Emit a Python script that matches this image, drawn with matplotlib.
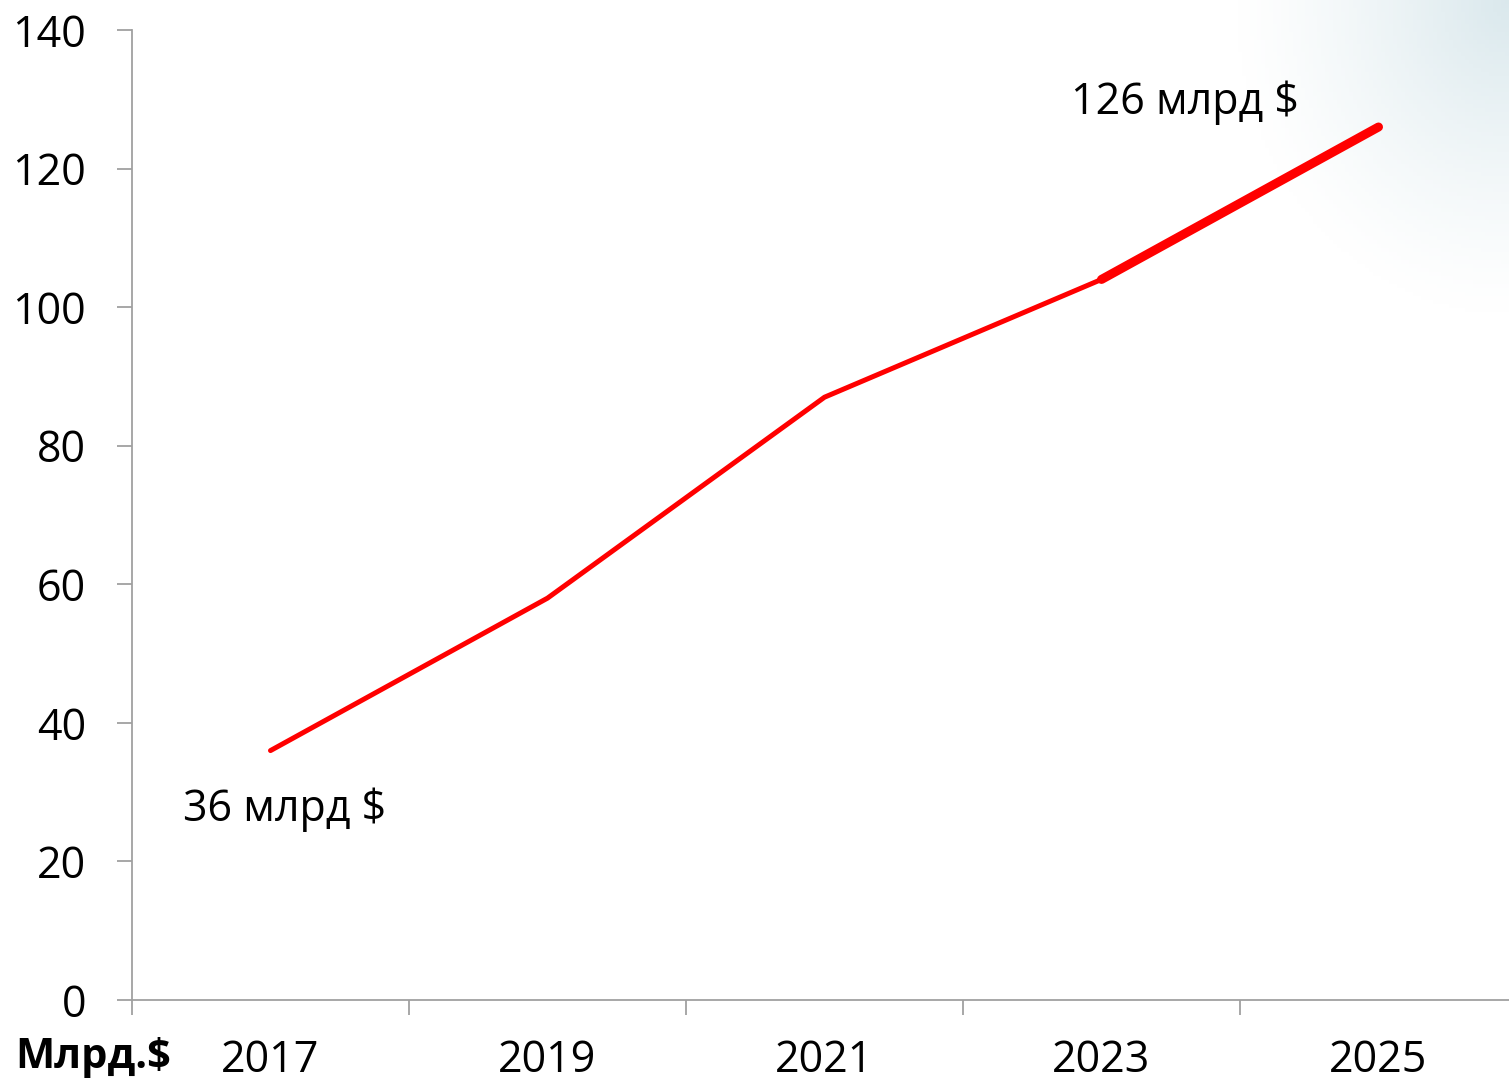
import matplotlib
matplotlib.use("Agg")
import matplotlib.pyplot as plt
import numpy as np

years = ["2017", "2019", "2021", "2023", "2025"]
values = [36, 58, 87, 104, 126]
yticks = [0, 20, 40, 60, 80, 100, 120, 140]
label_first = "36 млрд $"
label_last = "126 млрд $"
unit_label = "Млрд.$"

plt.rcParams['font.family'] = ['Open Sans', 'DejaVu Sans']

W, H = 1509, 1084
fig = plt.figure(figsize=(W / 100, H / 100), dpi=100)

# subtle background gradient in top-right corner
bg = fig.add_axes([0, 0, 1, 1], zorder=-10)
bg.axis('off')
yy, xx = np.mgrid[0:H:4, 0:W:4]
d = np.hypot((xx - W) / 280.0, yy / 320.0)
a = np.clip(1 - d, 0, 1) ** 1.3 * 0.45
img = np.ones((yy.shape[0], yy.shape[1], 4))
img[..., 0] = 0.68
img[..., 1] = 0.80
img[..., 2] = 0.84
img[..., 3] = a
bg.imshow(img, extent=[0, W, H, 0], aspect='auto')
bg.set_xlim(0, W)
bg.set_ylim(H, 0)

ax = fig.add_axes([132 / W, 84 / H, 1385 / W, 970 / H])
ax.patch.set_alpha(0)
x = np.arange(len(years))
ax.plot(x[:4], values[:4], color='#ff0000', lw=3.6, solid_capstyle='round', solid_joinstyle='round')
ax.plot(x[3:], values[3:], color='#ff0000', lw=6.5, solid_capstyle='round')

ax.set_xlim(-0.5, 4.5)
ax.set_ylim(0, 140)
ax.set_yticks(yticks)
ax.set_yticklabels([str(v) for v in yticks], fontsize=31)
ax.set_xticks(x)
ax.set_xticklabels(years, fontsize=31)
ax.set_xticks(np.arange(-0.5, 4.6, 1), minor=True)
ax.tick_params(axis='x', which='major', length=0, pad=28)
ax.tick_params(axis='x', which='minor', length=11, color='#a0a0a0', width=1.3, direction='out')
ax.tick_params(axis='y', length=11, color='#a0a0a0', width=1.3, pad=22)
for s in ['top', 'right']:
    ax.spines[s].set_visible(False)
for s in ['left', 'bottom']:
    ax.spines[s].set_color('#a0a0a0')
    ax.spines[s].set_linewidth(1.3)

ax.text(0.05, 27.5, label_first, fontsize=31, ha='center', va='center')
ax.text(3.3, 129.5, label_last, fontsize=31, ha='center', va='center')
fig.text(15 / W, 1 - 1058 / H, unit_label, fontsize=30, fontweight='bold', ha='left', va='center')

fig.savefig('out.png', dpi=100)
